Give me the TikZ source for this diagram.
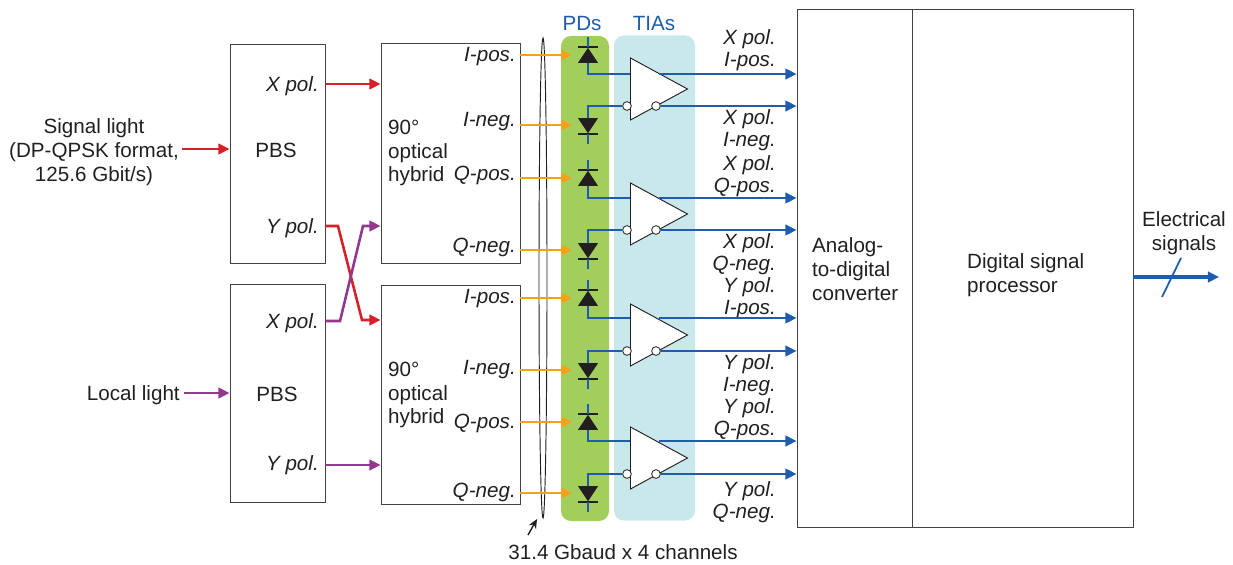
\documentclass[tikz,border=0pt]{standalone}
\usepackage{fontspec}
\setmainfont{Liberation Sans}
\usetikzlibrary{shapes,arrows.meta}
\definecolor{inkc}{HTML}{231F20}
\definecolor{redc}{HTML}{D7202A}
\definecolor{purc}{HTML}{93378F}
\definecolor{orac}{HTML}{F9A01B}
\definecolor{bluc}{HTML}{1F5CAD}
\definecolor{grnc}{HTML}{A2CF5C}
\definecolor{cyac}{HTML}{C9E8EC}
\begin{document}
\begin{tikzpicture}[x=0.03cm,y=-0.03cm]
\tikzstyle{txt}=[inner sep=0pt,yshift=-0.06cm,text=inkc,font=\fontsize{17.6}{20.4}\selectfont]
\tikzstyle{tag}=[inner sep=0pt,yshift=-0.06cm,text=inkc,align=right,anchor=east,font=\fontsize{17.6}{18.7}\selectfont\itshape]
\tikzstyle{blk}=[rectangle,draw=inkc!85,line width=0.8pt,fill=white,inner sep=0pt]
\tikzstyle{band}=[rectangle,rounded corners=0.3cm,inner sep=0pt,minimum height=14.55cm]
\tikzstyle{pdbody}=[isosceles triangle,isosceles triangle stretches,fill=inkc,inner sep=0pt,minimum width=0.6cm,minimum height=0.45cm,anchor=lower side]
\tikzstyle{pdup}=[pdbody,shape border rotate=90]
\tikzstyle{pddown}=[pdbody,shape border rotate=270]
\tikzstyle{pdbar}=[rectangle,fill=inkc,inner sep=0pt,minimum width=0.62cm,minimum height=0.075cm]
\tikzstyle{tia}=[isosceles triangle,isosceles triangle stretches,draw=inkc,line width=0.8pt,fill=white,inner sep=0pt,minimum width=1.86cm,minimum height=1.71cm,anchor=lower side]
\tikzstyle{inv}=[circle,draw=inkc,line width=0.7pt,fill=white,inner sep=0pt,minimum size=0.26cm]
\tikzstyle{sig}=[line width=2.2pt,-{Triangle[length=9.5pt,width=9pt]}]
\tikzstyle{wire}=[bluc,line width=2.2pt]
\tikzstyle{opt}=[orac,line width=2pt,-{Triangle[length=9pt,width=8.5pt]}]
\useasboundingbox (0,0) rectangle (1233,565);

\node[band,fill=grnc,minimum width=1.44cm] (pds) at (585,278.5) {};
\node[band,fill=cyac,minimum width=2.43cm] (tias) at (654.5,278) {};
\node[txt,text=bluc] (pdstxt) at (582,22) {PDs};
\node[txt,text=bluc] (tiastxt) at (654,22) {TIAs};
\node[ellipse,draw=inkc,line width=0.8pt,inner sep=0pt,minimum width=0.24cm,minimum height=14.4cm] (bundle) at (543,278) {};

\node[blk,minimum width=2.85cm,minimum height=6.57cm] (pbsa) at (277.5,153.5) {};
\node[blk,minimum width=2.85cm,minimum height=6.54cm] (pbsb) at (277.5,393) {};
\node[blk,minimum width=4.17cm,minimum height=6.6cm] (hyba) at (450.5,153) {};
\node[blk,minimum width=4.17cm,minimum height=6.57cm] (hybb) at (450.5,394.5) {};
\node[blk,minimum width=3.45cm,minimum height=15.54cm] (adc) at (854.5,268) {};
\node[blk,minimum width=6.63cm,minimum height=15.54cm] (dsp) at (1022.5,268) {};

\node[txt,align=center] (signal) at (94,150) {Signal light\\(DP-QPSK format,\\125.6 Gbit/s)};
\node[txt,anchor=east] (local) at (180,393) {Local light};
\node[txt] (pbsatxt) at (276,148) {PBS};
\node[txt] (pbsbtxt) at (277,392) {PBS};
\node[tag] (xa) at (319,84) {X pol.};
\node[tag] (ya) at (319,226) {Y pol.};
\node[tag] (xb) at (319,321) {X pol.};
\node[tag] (yb) at (319,463) {Y pol.};
\node[txt,align=left,anchor=west] (hybatxt) at (388,151) {90°\\optical\\hybrid};
\node[txt,align=left,anchor=west] (hybbtxt) at (388,393) {90°\\optical\\hybrid};
\node[tag] (ipa) at (516,55) {I-pos.};
\node[tag] (ina) at (516,120) {I-neg.};
\node[tag] (qpa) at (516,173) {Q-pos.};
\node[tag] (qna) at (516,245) {Q-neg.};
\node[tag] (ipb) at (516,297) {I-pos.};
\node[tag] (inb) at (516,368) {I-neg.};
\node[tag] (qpb) at (516,421) {Q-pos.};
\node[tag] (qnb) at (516,490) {Q-neg.};
\node[txt,align=left,anchor=west] (adctxt) at (812,267) {Analog-\\to-digital\\converter};
\node[txt,align=left,anchor=west] (dsptxt) at (967,273) {Digital signal\\processor};
\node[txt,align=center] (elec) at (1184,231) {Electrical\\signals};
\node[txt] (baud) at (623,550) {31.4 Gbaud x 4 channels};

\node[tag] (oa) at (776,48) {X pol.\\I-pos.};
\node[tag] (ob) at (776,128) {X pol.\\I-neg.};
\node[tag] (oc) at (776,174) {X pol.\\Q-pos.};
\node[tag] (od) at (776,252) {X pol.\\Q-neg.};
\node[tag] (oe) at (776,296) {Y pol.\\I-pos.};
\node[tag] (of) at (776,373) {Y pol.\\I-neg.};
\node[tag] (og) at (776,417) {Y pol.\\Q-pos.};
\node[tag] (oh) at (776,500) {Y pol.\\Q-neg.};

\node[pdup] (pda) at (588,63) {};
\node[pddown] (pdb) at (588,118) {};
\node[pdup] (pdc) at (588,186) {};
\node[pddown] (pdd) at (588,243) {};
\node[pdup] (pde) at (588,306) {};
\node[pddown] (pdf) at (588,363) {};
\node[pdup] (pdg) at (588,430) {};
\node[pddown] (pdh) at (588,486) {};
\node[pdbar] (bara) at (pda.apex) {};
\node[pdbar] (barb) at (pdb.apex) {};
\node[pdbar] (barc) at (pdc.apex) {};
\node[pdbar] (bard) at (pdd.apex) {};
\node[pdbar] (bare) at (pde.apex) {};
\node[pdbar] (barf) at (pdf.apex) {};
\node[pdbar] (barg) at (pdg.apex) {};
\node[pdbar] (barh) at (pdh.apex) {};

\node[tia] (tiaa) at (630,89) {};
\node[tia] (tiab) at (630,214) {};
\node[tia] (tiac) at (630,335) {};
\node[tia] (tiad) at (630,458) {};

\node[inv] (ia) at (627,106) {};
\node[inv] (ib) at (627,230) {};
\node[inv] (ic) at (627,351) {};
\node[inv] (id) at (627,474) {};
\node[inv] (ja) at (656,106) {};
\node[inv] (jb) at (656,230) {};
\node[inv] (jc) at (656,351) {};
\node[inv] (jd) at (656,474) {};
\coordinate (ka) at (630,74);
\coordinate (kb) at (630,198);
\coordinate (kc) at (630,318);
\coordinate (kd) at (630,441);
\coordinate (la) at (659,74);
\coordinate (lb) at (659,198);
\coordinate (lc) at (659,318);
\coordinate (ld) at (659,441);

\coordinate (redin) at (182,149);
\coordinate (purin) at (184,393);
\coordinate (reda) at (338,226);
\coordinate (redb) at (362,320);
\coordinate (pura) at (340,321);
\coordinate (purb) at (363,226);
\coordinate (gbaudtail) at (528,535);
\coordinate (gbaudtip) at (537,519);
\coordinate (slasha) at (1162,297);
\coordinate (slashb) at (1181,258);

\draw[sig,redc] (redin) -> (pbsa.west |- redin);
\draw[sig,purc] (purin) -> (pbsb.west |- purin);
\draw[sig,redc] (pbsa.east |- 0,84) -> (hyba.west |- 0,84);
\draw[sig,redc] (pbsa.east |- reda) -- (reda) -- (redb) -> (hybb.west |- redb);
\draw[sig,purc] (pbsb.east |- pura) -- (pura) -- (purb) -> (hyba.west |- purb);
\draw[sig,purc] (pbsb.east |- 0,465) -> (hybb.west |- 0,465);

\draw[opt] (hyba.east |- 0,55) -> (572,55);
\draw[opt] (hyba.east |- 0,125) -> (572,125);
\draw[opt] (hyba.east |- 0,178) -> (572,178);
\draw[opt] (hyba.east |- 0,250) -> (572,250);
\draw[opt] (hybb.east |- 0,298) -> (572,298);
\draw[opt] (hybb.east |- 0,370) -> (572,370);
\draw[opt] (hybb.east |- 0,422) -> (572,422);
\draw[opt] (hybb.east |- 0,493) -> (572,493);

\draw[wire] (bara.center) -- ++(0,-10);
\draw[wire] (barb.center) -- ++(0,10);
\draw[wire] (barc.center) -- ++(0,-10);
\draw[wire] (bard.center) -- ++(0,10);
\draw[wire] (bare.center) -- ++(0,-10);
\draw[wire] (barf.center) -- ++(0,10);
\draw[wire] (barg.center) -- ++(0,-10);
\draw[wire] (barh.center) -- ++(0,10);
\draw[wire] (pda.lower side) |- (ka);
\draw[wire] (pdb.lower side) |- (ia);
\draw[wire] (pdc.lower side) |- (kb);
\draw[wire] (pdd.lower side) |- (ib);
\draw[wire] (pde.lower side) |- (kc);
\draw[wire] (pdf.lower side) |- (ic);
\draw[wire] (pdg.lower side) |- (kd);
\draw[wire] (pdh.lower side) |- (id);

\draw[sig,bluc] (la) -> (adc.west |- la);
\draw[sig,bluc] (ja) -> (adc.west |- ja);
\draw[sig,bluc] (lb) -> (adc.west |- lb);
\draw[sig,bluc] (jb) -> (adc.west |- jb);
\draw[sig,bluc] (lc) -> (adc.west |- lc);
\draw[sig,bluc] (jc) -> (adc.west |- jc);
\draw[sig,bluc] (ld) -> (adc.west |- ld);
\draw[sig,bluc] (jd) -> (adc.west |- jd);

\draw[sig,bluc,line width=2.8pt] (dsp.east |- 0,277) -> (1219,277);
\draw[bluc,line width=1.5pt] (slasha) -- (slashb);
\draw[-{Stealth[length=8pt,width=7pt]},inkc,line width=1.2pt] (gbaudtail) -> (gbaudtip);
\end{tikzpicture}
\end{document}
